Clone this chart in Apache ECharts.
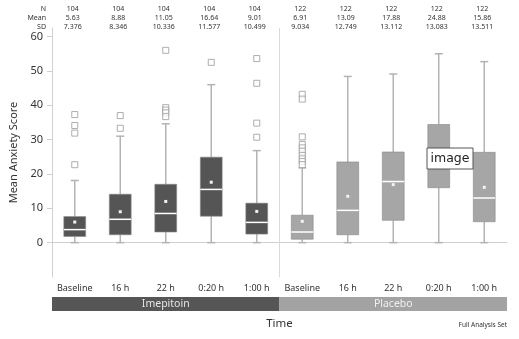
<!DOCTYPE html>
<html>
<head>
<meta charset="utf-8">
<script src="https://cdn.jsdelivr.net/npm/echarts@6/dist/echarts.min.js"></script>
<style>html,body{margin:0;padding:0;background:#fff;}#c{width:519px;height:339px;}</style>
</head>
<body>
<div id="c"></div>
<script>
// ---- data ----
const timepoints = ['Baseline', '16 h', '22 h', '0:20 h', '1:00 h'];
const groups = ['Imepitoin', 'Placebo'];
const categories = timepoints.concat(timepoints);
const nVals = ['104', '104', '104', '104', '104', '122', '122', '122', '122', '122'];
const meanText = ['5.63', '8.88', '11.05', '16.64', '9.01', '6.91', '13.09', '17.88', '24.88', '15.86'];
const sdText = ['7.376', '8.346', '10.336', '11.577', '10.499', '9.034', '12.749', '13.112', '13.083', '13.511'];
const whiskerLow = [0, 0, 0, 0, 0, 0, 0, 0, 0, 0];
const q1 = [1.8, 2.3, 3.1, 7.7, 2.5, 1.0, 2.3, 6.5, 16.0, 6.1];
const median = [3.8, 6.8, 8.5, 15.5, 5.9, 3.1, 9.4, 17.8, 24.0, 13.0];
const q3 = [7.6, 14.1, 17.0, 24.9, 11.5, 8.0, 23.5, 26.4, 34.4, 26.3];
const whiskerHigh = [18.1, 31.0, 34.6, 46.0, 26.8, 21.8, 48.4, 49.1, 55.0, 52.7];
const meanDot = [6.0, 9.0, 12.0, 17.6, 9.1, 6.2, 13.5, 16.9, 24.88, 16.1];
const outliers = [
  [37.3, 34.1, 31.9, 22.7],
  [37.0, 33.3],
  [56.0, 39.3, 38.6, 37.8, 36.7],
  [52.5],
  [53.6, 46.4, 34.8, 30.7],
  [43.2, 41.8, 30.8, 28.6, 27.6, 26.6, 25.4, 24.4, 23.6, 22.7],
  [], [], [], []
];
const yTicks = [0, 10, 20, 30, 40, 50, 60];

// ---- build ----
const boxData = categories.map((c, i) => [i, whiskerLow[i], q1[i], median[i], q3[i], whiskerHigh[i], meanDot[i]]);
const outData = [];
outliers.forEach((arr, i) => arr.forEach(v => outData.push([i, v])));

const FONT = 'Noto Sans';
const chart = echarts.init(document.getElementById('c'), null, {renderer: 'canvas'});

function renderBox(params, api) {
  const i = api.value(0);
  const x = api.coord([i, 0])[0];
  const yLo = api.coord([i, api.value(1)])[1];
  const yQ1 = api.coord([i, api.value(2)])[1];
  const yMed = api.coord([i, api.value(3)])[1];
  const yQ3 = api.coord([i, api.value(4)])[1];
  const yHi = api.coord([i, api.value(5)])[1];
  const yMean = api.coord([i, api.value(6)])[1];
  const band = api.size([1, 0])[0];
  const bw = band * 0.48;
  const cap = 8;
  const fill = i < 5 ? '#555555' : '#a6a6a6';
  const wc = '#b3b3b3';
  const cs = params.coordSys;
  const children = [];
  if (i === 5) {
    children.push({type: 'line', shape: {x1: x - band / 2, y1: cs.y, x2: x - band / 2, y2: cs.y + cs.height},
      style: {stroke: '#d9d9d9', lineWidth: 1}});
  }
  children.push(
    {type: 'line', shape: {x1: x, y1: yHi, x2: x, y2: yQ3}, style: {stroke: wc, lineWidth: 1.5}},
    {type: 'line', shape: {x1: x, y1: yQ1, x2: x, y2: yLo}, style: {stroke: wc, lineWidth: 1.5}},
    {type: 'line', shape: {x1: x - cap / 2, y1: yHi, x2: x + cap / 2, y2: yHi}, style: {stroke: wc, lineWidth: 1.5}},
    {type: 'line', shape: {x1: x - cap / 2, y1: yLo, x2: x + cap / 2, y2: yLo}, style: {stroke: wc, lineWidth: 1.5}},
    {type: 'rect', shape: {x: x - bw / 2, y: yQ3, width: bw, height: yQ1 - yQ3}, style: {fill: fill, stroke: '#888', lineWidth: 0.6}},
    {type: 'line', shape: {x1: x - bw / 2, y1: yMed, x2: x + bw / 2, y2: yMed}, style: {stroke: '#fff', lineWidth: 1.5}},
    {type: 'rect', shape: {x: x - 1.5, y: yMean - 1.5, width: 3, height: 3}, style: {fill: '#f2f2f2'}}
  );
  return {type: 'group', children: children};
}

chart.setOption({
  animation: false,
  backgroundColor: '#fff',
  grid: {left: 50, right: 12, top: 28, bottom: 62},
  xAxis: {
    type: 'category', data: categories,
    axisLine: {lineStyle: {color: '#d0d0d0'}},
    axisTick: {alignWithLabel: true, length: 3, lineStyle: {color: '#d0d0d0'}},
    axisLabel: {color: '#333', fontSize: 9, fontFamily: FONT, margin: 7, interval: 0},
    splitLine: {show: false}
  },
  yAxis: {
    type: 'value', min: -10, max: 62.5,
    name: 'Mean Anxiety Score', nameLocation: 'middle', nameGap: 33,
    nameTextStyle: {color: '#333', fontSize: 11, fontFamily: FONT},
    axisLine: {show: true, lineStyle: {color: '#d0d0d0'}},
    axisTick: {show: true, length: 5, lineStyle: {color: '#d0d0d0'}, customValues: yTicks},
    axisLabel: {color: '#333', fontSize: 11, fontFamily: FONT, margin: 9, customValues: yTicks},
    splitLine: {show: false}
  },
  series: [
    {type: 'custom', renderItem: renderBox, data: boxData, encode: {x: 0, y: [1, 2, 3, 4, 5]}, z: 2},
    {type: 'scatter', data: outData, symbol: 'rect', symbolSize: 6,
      itemStyle: {color: '#fff', borderColor: '#9a9a9a', borderWidth: 1}, z: 3}
  ]
});

// table + group bands + titles
const g = [];
const rowY = [9, 18, 26.5];
const rowLabels = ['N', 'Mean', 'SD'];
rowLabels.forEach((t, r) => g.push({type: 'text', x: 46, y: rowY[r],
  style: {text: t, fill: '#333', fontSize: 7, fontFamily: FONT, align: 'right', verticalAlign: 'middle'}}));
const rows = [nVals, meanText, sdText];
categories.forEach((c, i) => {
  const px = chart.convertToPixel({xAxisIndex: 0}, i) - 2;
  rows.forEach((arr, r) => g.push({type: 'text', x: px, y: rowY[r],
    style: {text: arr[i], fill: '#333', fontSize: 7, fontFamily: FONT, align: 'center', verticalAlign: 'middle'}}));
});
const xL = chart.convertToPixel({xAxisIndex: 0}, 0);
const xM = chart.convertToPixel({xAxisIndex: 0}, 5);
const half = (xM - xL) / 10;
const left = xL - half, mid = xM - half, right = chart.convertToPixel({xAxisIndex: 0}, 9) + half;
g.push({type: 'rect', shape: {x: left, y: 297, width: mid - left, height: 14}, style: {fill: '#565656'}});
g.push({type: 'rect', shape: {x: mid, y: 297, width: right - mid, height: 14}, style: {fill: '#a3a3a3'}});
g.push({type: 'text', x: (left + mid) / 2, y: 304, style: {text: groups[0], fill: '#e6e6e6', fontSize: 10.5, fontFamily: FONT, align: 'center', verticalAlign: 'middle'}});
g.push({type: 'text', x: (mid + right) / 2, y: 304, style: {text: groups[1], fill: '#f0f0f0', fontSize: 10.5, fontFamily: FONT, align: 'center', verticalAlign: 'middle'}});
g.push({type: 'text', x: (left + right) / 2, y: 324, style: {text: 'Time', fill: '#333', fontSize: 11.5, fontFamily: FONT, align: 'center', verticalAlign: 'middle'}});
g.push({type: 'text', x: right, y: 325, style: {text: 'Full Analysis Set', fill: '#333', fontSize: 6.5, fontFamily: FONT, align: 'right', verticalAlign: 'middle'}});
// "image" placeholder box seen in the reference (drawn above the series)
g.push({type: 'rect', z: 100, zlevel: 1, shape: {x: 427, y: 148, width: 46, height: 21}, style: {fill: '#fff', stroke: '#555', lineWidth: 1}});
g.push({type: 'text', z: 101, zlevel: 1, x: 450, y: 158.5, style: {text: 'image', fill: '#222', fontSize: 12.5, fontFamily: 'DejaVu Sans', align: 'center', verticalAlign: 'middle'}});
chart.setOption({graphic: g});
</script>
</body>
</html>
